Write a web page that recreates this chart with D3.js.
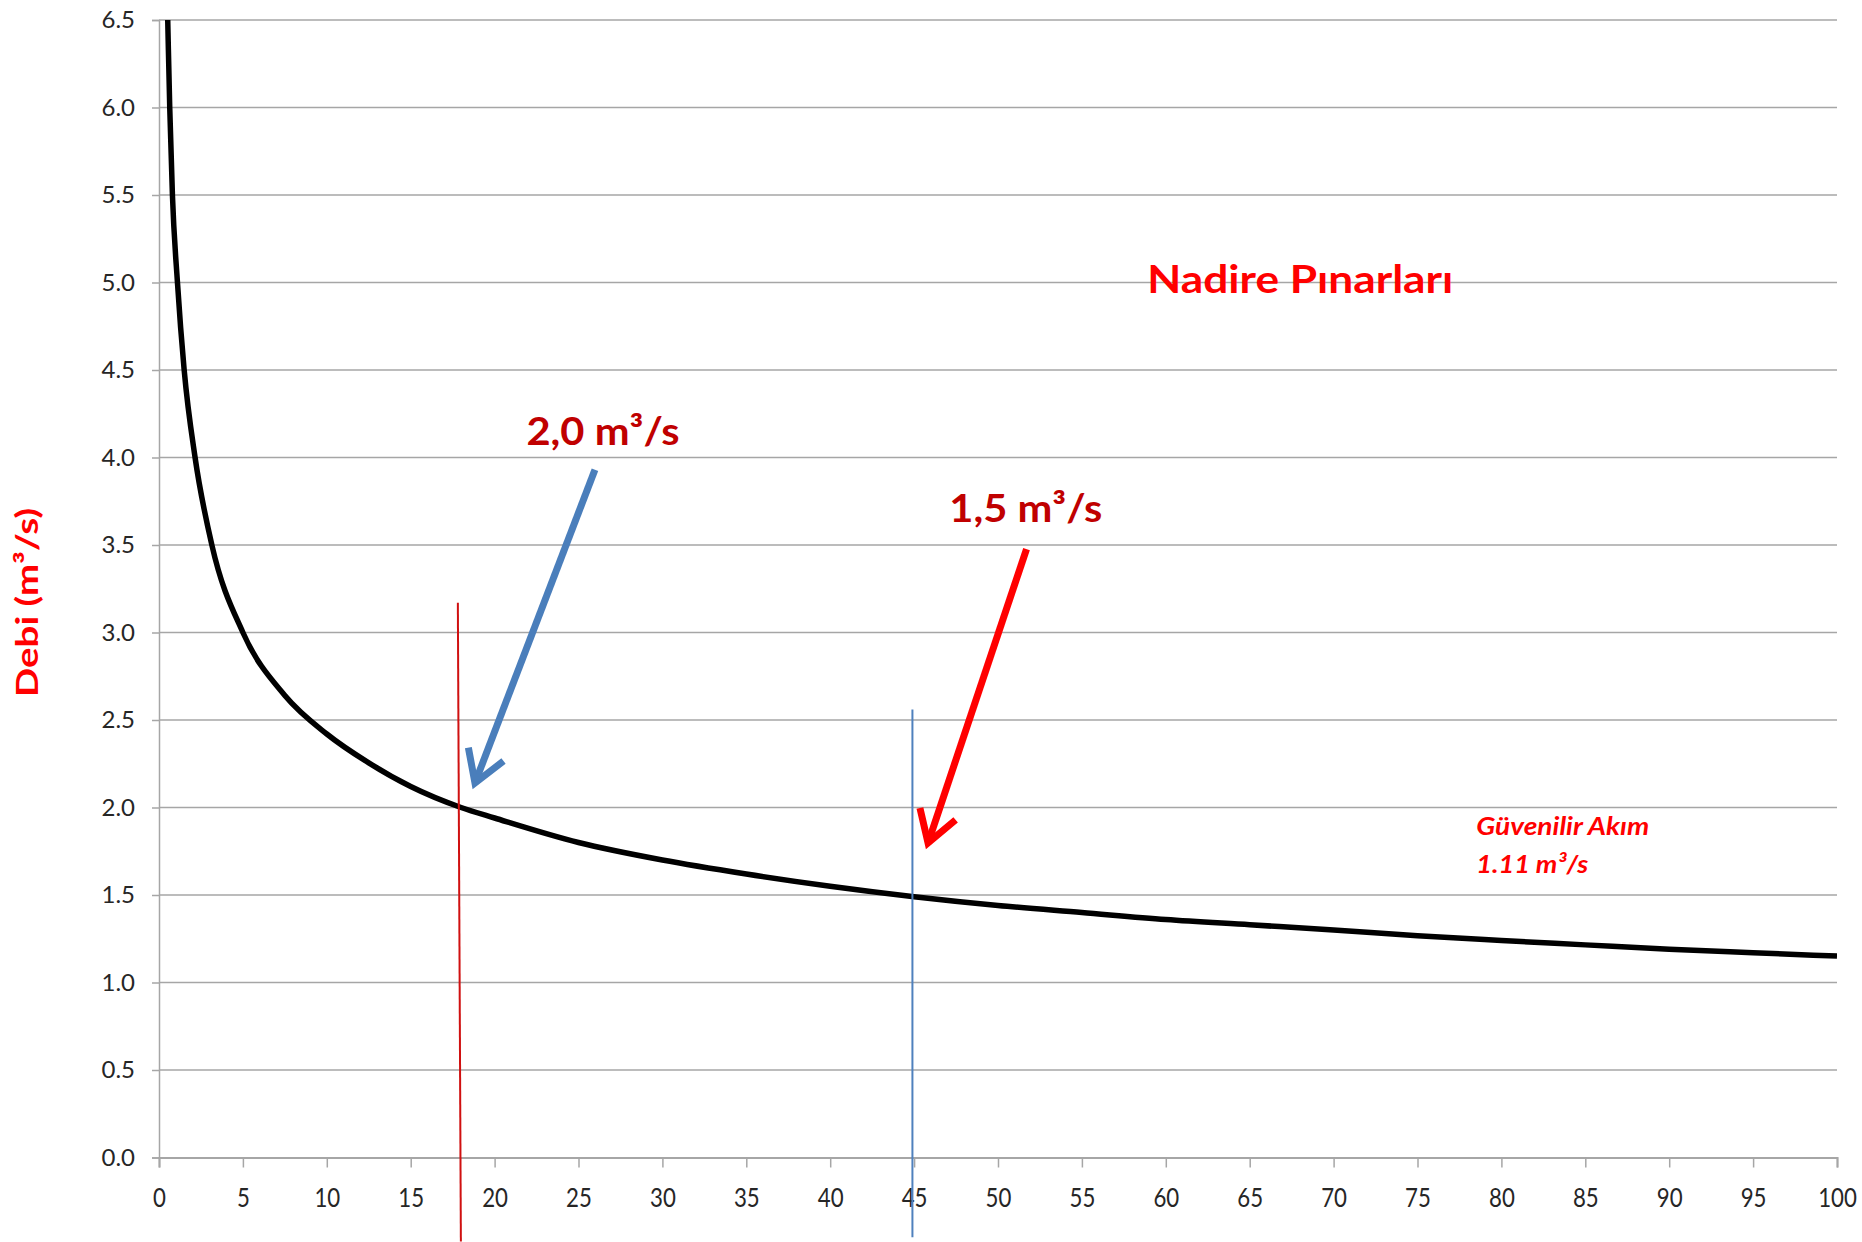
<!DOCTYPE html>
<html>
<head>
<meta charset="utf-8">
<script src="https://cdn.jsdelivr.net/npm/d3@7/dist/d3.min.js"></script>
<style>
  html, body { margin: 0; padding: 0; background: #ffffff; }
  svg { display: block; }
  text { font-family: Lato, "Open Sans", "DejaVu Sans", sans-serif; }
</style>
</head>
<body>
<svg id="chart" width="1862" height="1242"></svg>
<script>
// ---- Data (flow duration curve, Nadire Pınarları) ----
const exceedancePct = [0.4, 0.52, 0.64, 0.8, 1.1, 1.5, 2.15, 3.15, 5, 7.5, 10, 12.5, 15, 18, 20, 25, 30, 35, 40, 45, 50, 55, 60, 65, 70, 75, 80, 85, 90, 95, 100];
const discharge     = [7.0, 6.5, 6.0, 5.5, 5.0, 4.5, 4.0, 3.5, 3.0, 2.64, 2.42, 2.255, 2.12, 2.0, 1.94, 1.80, 1.70, 1.62, 1.55, 1.49, 1.44, 1.40, 1.36, 1.33, 1.30, 1.267, 1.24, 1.215, 1.19, 1.17, 1.151];

const xTickValues = [0,5,10,15,20,25,30,35,40,45,50,55,60,65,70,75,80,85,90,95,100];
const yTickValues = [0,0.5,1,1.5,2,2.5,3,3.5,4,4.5,5,5.5,6,6.5];

const chartTitle = "Nadire Pınarları";
const yAxisTitle = "Debi (m³/s)";

// reference lines
const refLineTopX    = [17.81, 44.9];
const refLineBottomX = [17.99, 44.9];
const refLineTop     = [3.17, 2.56];
const refLineBottom  = [-0.48, -0.455];

// annotation arrows (data coords): start -> tip
const arrowStartX = [25.98, 51.7];
const arrowStartY = [3.93, 3.477];
const arrowTipX   = [18.83, 45.83];
const arrowTipY   = [2.14, 1.797];
const arrowLabels = ["2,0 m³/s", "1,5 m³/s"];
const arrowLabelX = [21.9, 47.1];
const arrowLabelY = [4.07, 3.63];

const reliableLabel = ["Güvenilir Akım", "1.11 m³/s"];

// ---- Layout ----
const svg = d3.select("#chart");
const mLeft = 159, mRight = 1837, mTop = 20, mBottom = 1157.5;

const x = d3.scaleLinear().domain([0, 100]).range([mLeft, mRight]);
const y = d3.scaleLinear().domain([0, 6.5]).range([mBottom, mTop]);

const gridColor = "#a6a6a6";

// gridlines
svg.append("g")
  .selectAll("line")
  .data(yTickValues.filter(v => v > 0))
  .join("line")
  .attr("x1", mLeft).attr("x2", mRight)
  .attr("y1", d => y(d)).attr("y2", d => y(d))
  .attr("stroke", gridColor).attr("stroke-width", 1.5);

// y axis
const yAxis = svg.append("g")
  .attr("transform", `translate(${mLeft},0)`)
  .call(d3.axisLeft(y).tickValues(yTickValues).tickFormat(d3.format(".1f")).tickSize(7).tickPadding(17));
yAxis.select(".domain").attr("stroke", gridColor).attr("stroke-width", 1.5);
yAxis.selectAll(".tick line").attr("stroke", gridColor).attr("stroke-width", 1.5);
yAxis.selectAll(".tick text")
  .attr("fill", "#262626")
  .style("font-size", "24px")
  .style("font-family", "Lato, sans-serif");

// x axis
const xAxis = svg.append("g")
  .attr("transform", `translate(0,${mBottom})`)
  .call(d3.axisBottom(x).tickValues(xTickValues).tickFormat(d3.format("d")).tickSize(10).tickPadding(20));
xAxis.select(".domain").attr("stroke", gridColor).attr("stroke-width", 2);
xAxis.selectAll(".tick line").attr("stroke", gridColor).attr("stroke-width", 1.5);
xAxis.selectAll(".tick text")
  .attr("fill", "#262626")
  .attr("y", 0).attr("dy", 0)
  .attr("transform", "translate(0,49) scale(0.84,1)")
  .style("font-size", "26.5px")
  .style("font-family", "Lato, sans-serif");

// clip for curve
svg.append("clipPath").attr("id", "plotclip")
  .append("rect").attr("x", mLeft).attr("y", mTop).attr("width", mRight - mLeft).attr("height", mBottom - mTop);

// curve
const pts = exceedancePct.map((v, i) => [v, discharge[i]]);
svg.append("path")
  .datum(pts)
  .attr("clip-path", "url(#plotclip)")
  .attr("fill", "none")
  .attr("stroke", "#000000")
  .attr("stroke-width", 5.5)
  .attr("stroke-linejoin", "round")
  .attr("d", d3.line().x(d => x(d[0])).y(d => y(d[1])).curve(d3.curveMonotoneX));

// reference lines
const refColors = ["#d01010", "#4f81bd"];
svg.append("g").selectAll("line")
  .data(refLineTopX)
  .join("line")
  .attr("x1", d => x(d)).attr("x2", (d, i) => x(refLineBottomX[i]))
  .attr("y1", (d, i) => y(refLineTop[i])).attr("y2", (d, i) => y(refLineBottom[i]))
  .attr("stroke", (d, i) => refColors[i])
  .attr("stroke-width", 2);

// arrows
const arrowColors = ["#4a7ebb", "#ff0000"];
function drawArrow(i) {
  const x0 = x(arrowStartX[i]), y0 = y(arrowStartY[i]);
  const x1 = x(arrowTipX[i]), y1 = y(arrowTipY[i]);
  const g = svg.append("g")
    .attr("stroke", arrowColors[i]).attr("stroke-width", 7).attr("fill", "none")
    .attr("stroke-linecap", "butt").attr("stroke-linejoin", "miter");
  g.append("line").attr("x1", x0).attr("y1", y0).attr("x2", x1).attr("y2", y1);
  const ang = Math.atan2(y0 - y1, x0 - x1);
  const L = 36, spread = 0.55;
  const b1 = [x1 + L * Math.cos(ang - spread), y1 + L * Math.sin(ang - spread)];
  const b2 = [x1 + L * Math.cos(ang + spread), y1 + L * Math.sin(ang + spread)];
  g.append("path").attr("d", `M${b1[0]},${b1[1]}L${x1},${y1}L${b2[0]},${b2[1]}`);
}
drawArrow(0); drawArrow(1);

// arrow labels
svg.append("g").selectAll("text")
  .data(arrowLabels)
  .join("text")
  .attr("x", (d, i) => x(arrowLabelX[i]))
  .attr("y", (d, i) => y(arrowLabelY[i]))
  .attr("fill", "#c00000")
  .attr("textLength", 153).attr("lengthAdjust", "spacingAndGlyphs")
  .style("font-size", "39px")
  .style("font-weight", "bold")
  .text(d => d);

// title
svg.append("text")
  .attr("x", x(58.9)).attr("y", y(4.94))
  .attr("fill", "#ff0000")
  .attr("textLength", 306).attr("lengthAdjust", "spacingAndGlyphs")
  .style("font-size", "39px").style("font-weight", "bold")
  .text(chartTitle);

// reliable flow label
svg.append("g").selectAll("text")
  .data(reliableLabel)
  .join("text")
  .attr("x", x(78.5))
  .attr("y", (d, i) => y(i === 0 ? 1.843 : 1.626))
  .attr("fill", "#ff0000")
  .attr("textLength", (d, i) => i === 0 ? 173 : 112).attr("lengthAdjust", "spacingAndGlyphs")
  .style("font-size", "25px").style("font-weight", "bold").style("font-style", "italic")
  .text(d => d);

// y axis title
svg.append("text")
  .attr("transform", "translate(38,602.5) rotate(-90)")
  .attr("text-anchor", "middle")
  .attr("fill", "#ff0000")
  .attr("textLength", 189).attr("lengthAdjust", "spacingAndGlyphs")
  .style("font-size", "30px").style("font-weight", "bold")
  .text(yAxisTitle);
</script>
</body>
</html>
